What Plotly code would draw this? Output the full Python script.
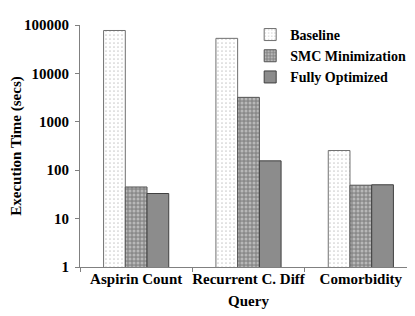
import plotly.graph_objects as go

categories = ["Aspirin Count", "Recurrent C. Diff", "Comorbidity"]
baseline = [77000, 53000, 255]
smc_min = [45, 3200, 49]
fully_opt = [33, 156, 50]
series_names = ["Baseline", "SMC Minimization", "Fully Optimized"]
tick_vals = [1, 10, 100, 1000, 10000, 100000]
tick_text = ["1", "10", "100", "1000", "10000", "100000"]

FAM = "Liberation Serif, Times New Roman, serif"
font = dict(family=FAM, size=15, color="black")

fig = go.Figure()
fig.add_trace(go.Bar(
    name="<b>%s</b>" % series_names[0], x=categories, y=baseline,
    marker=dict(color="white", line=dict(color="#707070", width=1),
                pattern=dict(shape=".", fgcolor="#9a9a9a", bgcolor="white", size=4, solidity=0.15)),
))
fig.add_trace(go.Bar(
    name="<b>%s</b>" % series_names[1], x=categories, y=smc_min,
    marker=dict(color="#8a8a8a", line=dict(color="#555555", width=1),
                pattern=dict(shape=".", fgcolor="#e6e6e6", bgcolor="#8a8a8a", size=4, solidity=0.45)),
))
fig.add_trace(go.Bar(
    name="<b>%s</b>" % series_names[2], x=categories, y=fully_opt,
    marker=dict(color="#8c8c8c", line=dict(color="#404040", width=1)),
))

fig.update_layout(
    width=415, height=316,
    margin=dict(l=72, r=6, t=17, b=57, autoexpand=False),
    paper_bgcolor="white", plot_bgcolor="white",
    barmode="group", bargap=0.42, bargroupgap=0,
    font=font,
    showlegend=True,
    legend=dict(x=0.505, y=1.025, xanchor="left", yanchor="top",
                bgcolor="rgba(0,0,0,0)", font=dict(family=FAM, size=14, color="black"),
                itemwidth=30, tracegroupgap=0),
    xaxis=dict(
        title=dict(text="<b>Query</b>", standoff=9, font=font),
        tickfont=font, showline=True, linecolor="#808080", linewidth=1,
        ticks="outside", ticklen=4, tickcolor="#808080", tickson="boundaries",
        tickvals=categories, ticktext=["<b>%s</b>" % c for c in categories],
        tickangle=0, automargin=False, ticklabelstandoff=-2,
        showgrid=False,
    ),
    yaxis=dict(
        type="log", range=[0, 5],
        title=dict(text="<b>Execution Time (secs)</b>", standoff=10, font=font),
        tickvals=tick_vals, ticktext=["<b>%s</b>" % t for t in tick_text],
        tickfont=font, showline=True, linecolor="#808080", linewidth=1,
        ticks="outside", ticklen=4, tickcolor="#808080", ticklabelstandoff=3,
        showgrid=False, zeroline=False, automargin=False,
    ),
)

fig.write_html("out.html")
